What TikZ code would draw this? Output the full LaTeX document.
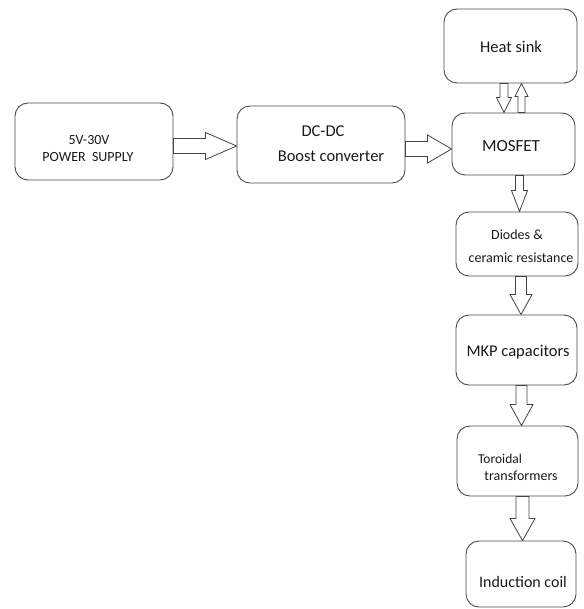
\documentclass[tikz,border=0pt]{standalone}
\usepackage{fontspec}
\setmainfont{Carlito}
\usetikzlibrary{calc}
\definecolor{boxgray}{HTML}{4A4A4A}
\definecolor{arrgray}{HTML}{444444}
\definecolor{txtcol}{HTML}{1A1A1A}
\tikzset{
  box/.style={draw=boxgray, line width=0.9pt, rounded corners=13pt, fill=white, inner sep=0pt},
  txt/.style={inner sep=0pt, anchor=base, text=txtcol},
  barrow/.style={draw=arrgray, line width=0.8pt, fill=white, line join=miter},
  fs/.style={font=\fontsize{#1}{#1}\selectfont}
}
\newcommand\blockarrow[5]{%
  \coordinate (ba-s) at #1;
  \coordinate (ba-e) at #2;
  \coordinate (ba-b) at ($(ba-e)!#5!(ba-s)$);
  \draw[barrow] ($(ba-s)!#3!90:(ba-e)$) -- ($(ba-b)!#3!90:(ba-e)$) --
    ($(ba-b)!#4!90:(ba-e)$) -- (ba-e) -- ($(ba-b)!#4!-90:(ba-e)$) --
    ($(ba-b)!#3!-90:(ba-e)$) -- ($(ba-s)!#3!-90:(ba-e)$) -- cycle;
}
\begin{document}
\begin{tikzpicture}[x=1pt,y=-1pt]
\useasboundingbox (0,0) rectangle (583,609);
\fill[white] (0,0) rectangle (583,609);
% boxes
\node[box, minimum width=158pt, minimum height=77pt] (ps) at (94,141.5) {};
\node[box, minimum width=168pt, minimum height=77pt] (boost) at (321,144.5) {};
\node[box, minimum width=133pt, minimum height=74pt] (heat) at (510.5,46) {};
\node[box, minimum width=123pt, minimum height=62pt] (mos) at (513.5,144) {};
\node[box, minimum width=122pt, minimum height=64pt] (diodes) at (517,244) {};
\node[box, minimum width=121pt, minimum height=70pt] (mkp) at (516.5,350) {};
\node[box, minimum width=121pt, minimum height=70pt] (toro) at (517.5,461) {};
\node[box, minimum width=110pt, minimum height=66pt] (ind) at (521,574) {};
% texts
\node[txt, fs=14] (ps-a) at (89,145) {5V-30V};
\node[txt, fs=14] (ps-b) at (88,162) {POWER\ \ SUPPLY};
\node[txt, fs=16.5] (boost-a) at (323,137) {DC-DC};
\node[txt, fs=16.5] (boost-b) at (331,162) {Boost converter};
\node[txt, fs=16.5] (heat-a) at (511,53) {Heat sink};
\node[txt, fs=17] (mos-a) at (511,152) {MOSFET};
\node[txt, fs=14] (diodes-a) at (517,240) {Diodes \&};
\node[txt, fs=14] (diodes-b) at (521,262) {ceramic resistance};
\node[txt, fs=16.5] (mkp-a) at (518,356) {MKP capacitors};
\node[txt, fs=13.5] (toro-a) at (500,463) {Toroidal};
\node[txt, fs=14] (toro-b) at (521,480) {transformers};
\node[txt, fs=16] (ind-a) at (523,587) {Induction coil};
% block arrows
\blockarrow{($(ps.east)+(0,4.5)$)}{($(boost.west)+(0,1.5)$)}{7.5pt}{13.5pt}{31pt}
\blockarrow{($(boost.east)+(0,4.5)$)}{($(mos.west)+(0,5)$)}{7.5pt}{14pt}{24pt}
\blockarrow{($(heat.south)+(-6.5,0)$)}{($(mos.north)+(-9.5,0)$)}{4pt}{7.5pt}{15pt}
\blockarrow{($(mos.north)+(8,0)$)}{($(heat.south)+(11,0)$)}{3.5pt}{6.5pt}{13pt}
\blockarrow{($(mos.south)+(6,0)$)}{($(diodes.north)+(2.5,0)$)}{4pt}{8pt}{21pt}
\blockarrow{($(diodes.south)+(4,0)$)}{($(mkp.north)+(4.5,0)$)}{5.5pt}{11pt}{20pt}
\blockarrow{($(mkp.south)+(5,0)$)}{($(toro.north)+(4,0)$)}{5.5pt}{11.5pt}{21pt}
\blockarrow{($(toro.south)+(5,0)$)}{($(ind.north)+(1.5,0)$)}{6.5pt}{12.5pt}{22pt}
\end{tikzpicture}
\end{document}
